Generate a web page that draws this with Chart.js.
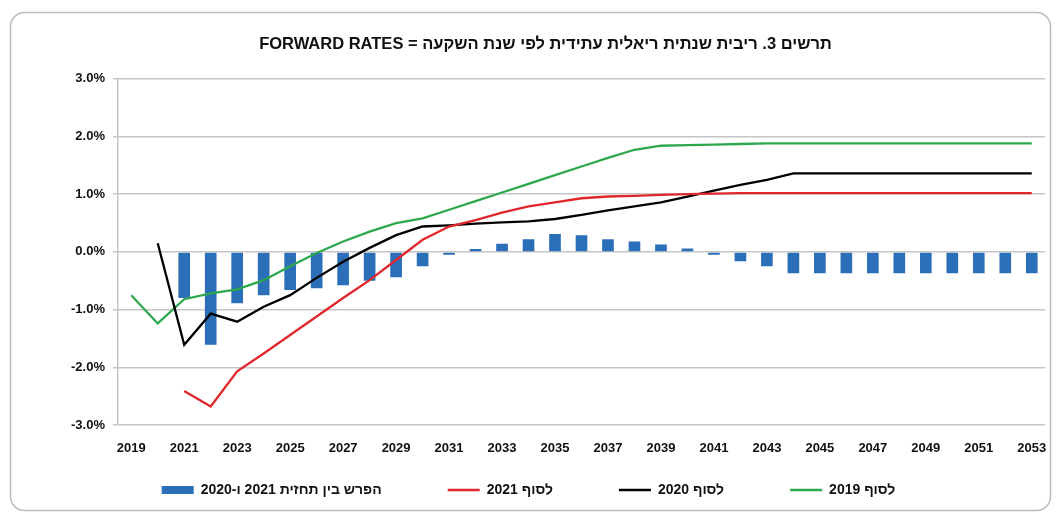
<!DOCTYPE html>
<html lang="he">
<head>
<meta charset="utf-8">
<title>Forward rates</title>
<script src="https://cdn.jsdelivr.net/npm/chart.js@4/dist/chart.umd.min.js"></script>
<style>
    html, body { margin: 0; padding: 0; background: #fff; }
    #wrap { position: relative; width: 1057px; height: 517px; }
</style>
</head>
<body>
<div id="wrap"><canvas id="fwdChart"></canvas></div>
<script>
const years = ['2019', '2020', '2021', '2022', '2023', '2024', '2025', '2026', '2027', '2028',
    '2029', '2030', '2031', '2032', '2033', '2034', '2035', '2036', '2037', '2038',
    '2039', '2040', '2041', '2042', '2043', '2044', '2045', '2046', '2047', '2048',
    '2049', '2050', '2051', '2052', '2053'];

// difference between the 2021 and 2020 forecasts (bars)
const diff2021vs2020 = [null, null, -0.80, -1.61, -0.89, -0.75, -0.66, -0.63, -0.58, -0.50,
    -0.44, -0.25, -0.05, 0.05, 0.14, 0.22, 0.31, 0.29, 0.22, 0.18,
    0.13, 0.06, -0.05, -0.16, -0.25, -0.37, -0.37, -0.37, -0.37, -0.37,
    -0.37, -0.37, -0.37, -0.37, -0.37];

const endOf2021 = [null, null, -2.41, -2.68, -2.07, -1.76, -1.44, -1.12, -0.80, -0.49,
    -0.14, 0.21, 0.44, 0.55, 0.68, 0.79, 0.86, 0.93, 0.96, 0.97,
    0.99, 1.00, 1.01, 1.02, 1.02, 1.02, 1.02, 1.02, 1.02, 1.02,
    1.02, 1.02, 1.02, 1.02, 1.02];

const endOf2020 = [null, 0.15, -1.61, -1.07, -1.21, -0.95, -0.75, -0.45, -0.17, 0.07,
    0.29, 0.44, 0.46, 0.49, 0.51, 0.53, 0.57, 0.64, 0.72, 0.79,
    0.86, 0.96, 1.06, 1.16, 1.25, 1.36, 1.36, 1.36, 1.36, 1.36,
    1.36, 1.36, 1.36, 1.36, 1.36];

const endOf2019 = [-0.75, -1.24, -0.82, -0.72, -0.65, -0.49, -0.25, -0.02, 0.18, 0.35,
    0.50, 0.58, 0.73, 0.88, 1.03, 1.18, 1.33, 1.48, 1.63, 1.77,
    1.84, 1.85, 1.86, 1.87, 1.88, 1.88, 1.88, 1.88, 1.88, 1.88,
    1.88, 1.88, 1.88, 1.88, 1.88];

const seriesNames = ['הפרש בין תחזית 2021 ו-2020', 'לסוף 2021', 'לסוף 2020', 'לסוף 2019'];
const chartTitle = 'תרשים 3. ריבית שנתית ריאלית עתידית לפי שנת השקעה = FORWARD RATES';

const BAR_BLUE = '#2b6fb8';
const RED = '#e0272b';
const BLACK = '#000000';
const GREEN = '#2ea84d';
const GRID = '#c6c6c6';

const LEGEND_GAP = 66;     // horizontal gap between legend entries
const LEGEND_VPAD = 10;    // padding we actually want above the legend row
const LEGEND_SHIFT = -17;  // legend sits a bit left of the title in the original

Chart.defaults.font.family = '"Liberation Sans", Arial, sans-serif';
Chart.defaults.font.weight = 'bold';
Chart.defaults.color = '#111';

// rounded frame around the whole figure
const framePlugin = {
    id: 'frame',
    beforeDraw(chart) {
        const ctx = chart.ctx;
        ctx.save();
        ctx.strokeStyle = '#bdbdbd';
        ctx.lineWidth = 1.5;
        ctx.beginPath();
        ctx.roundRect(10.5, 12.5, 1040, 498, 14);
        ctx.stroke();
        ctx.restore();
    }
};

// labels.padding is used between entries and above the row too;
// keep the wide gap between entries but not the tall space above them.
const legendSpreadPlugin = {
    id: 'legendSpread',
    afterInit(chart) {
        const legend = chart.legend;
        if (!legend) {
            return;
        }
        const extra = LEGEND_GAP - LEGEND_VPAD;
        const baseFit = legend.fit;
        const baseDraw = legend.draw;
        legend.fit = function () {
            baseFit.call(this);
            this.height = Math.max(0, this.height - extra);
        };
        legend.draw = function () {
            const { top, left, right } = this;
            this.top = top - extra;
            this.left = left + LEGEND_SHIFT;
            this.right = right + LEGEND_SHIFT;
            baseDraw.call(this);
            this.top = top;
            this.left = left;
            this.right = right;
        };
    }
};

function lineDataset(label, data, color) {
    return {
        type: 'line',
        label: label,
        data: data,
        borderColor: color,
        backgroundColor: color,
        borderWidth: 2.3,
        pointRadius: 0,
        pointStyle: 'line',
        tension: 0,
        spanGaps: false,
        order: 0
    };
}

window.addEventListener('DOMContentLoaded', () => {
    const ctx = document.getElementById('fwdChart').getContext('2d');
    new Chart(ctx, {
        type: 'bar',
        data: {
            labels: years,
            datasets: [
                {
                    type: 'bar',
                    label: seriesNames[0],
                    data: diff2021vs2020,
                    backgroundColor: BAR_BLUE,
                    borderWidth: 0,
                    pointStyle: 'rect',
                    categoryPercentage: 1,
                    barPercentage: 0.44,
                    order: 1
                },
                lineDataset(seriesNames[1], endOf2021, RED),
                lineDataset(seriesNames[2], endOf2020, BLACK),
                lineDataset(seriesNames[3], endOf2019, GREEN)
            ]
        },
        options: {
            responsive: true,
            maintainAspectRatio: false,
            animation: false,
            layout: { padding: { top: 35, left: 46, right: 12, bottom: 10 } },
            plugins: {
                title: {
                    display: true,
                    text: '\u202B' + chartTitle + '\u202C',
                    font: { size: 16.5, weight: 'bold' },
                    color: '#111',
                    padding: { top: 0, bottom: 24 }
                },
                legend: {
                    position: 'bottom',
                    labels: {
                        usePointStyle: true,
                        pointStyleWidth: 32,
                        boxHeight: 8,
                        padding: LEGEND_GAP,
                        color: '#111',
                        font: { size: 14, weight: 'bold' },
                        sort: (a, b) => a.datasetIndex - b.datasetIndex
                    }
                },
                tooltip: { enabled: false }
            },
            scales: {
                x: {
                    grid: { display: false },
                    border: { display: false },
                    ticks: {
                        autoSkip: false,
                        maxRotation: 0,
                        padding: 8,
                        font: { size: 13, weight: 'bold' },
                        callback: (value, index) => (index % 2 === 0 ? years[index] : '')
                    },
                    afterFit: (scale) => { scale.height = 48; }
                },
                y: {
                    min: -3,
                    max: 3,
                    grid: { color: GRID, lineWidth: 1.5, tickLength: 5 },
                    border: { display: true, color: GRID, width: 1.5 },
                    ticks: {
                        stepSize: 1,
                        padding: 8,
                        font: { size: 13, weight: 'bold' },
                        callback: (value) => value.toFixed(1) + '%'
                    },
                    afterFit: (scale) => { scale.width = 72; }
                }
            }
        },
        plugins: [framePlugin, legendSpreadPlugin]
    });
});
</script>
</body>
</html>
